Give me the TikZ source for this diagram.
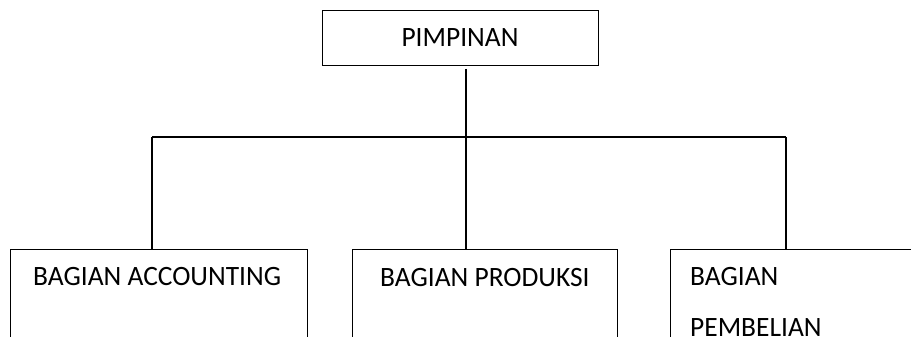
\documentclass[tikz,border=0pt]{standalone}
\usepackage{fontspec}
\setmainfont{Carlito}[FakeStretch=0.98]
\begin{document}
\begin{tikzpicture}[x=1pt,y=-1pt,
  box/.style={draw, line width=1.3pt, inner sep=0pt, anchor=north west},
  lbl/.style={font=\fontsize{28}{34}\selectfont, inner sep=0pt, anchor=base west},
  wire/.style={line width=1.3pt}]
\clip (0,0) rectangle (911,337);
% top box
\node[box, minimum width=276pt, minimum height=55pt] (top) at (322,10) {};
\node[lbl, anchor=base] (ttop) at (460,46.5) {PIMPINAN};
% lower boxes (run past the page edge)
\node[box, minimum width=297pt, minimum height=120pt] (acc) at (10,249) {};
\node[box, minimum width=265pt, minimum height=120pt] (prod) at (352,249) {};
\node[box, minimum width=280pt, minimum height=120pt] (beli) at (670,249) {};
\node[lbl] (tacc) at (33,285.5) {BAGIAN ACCOUNTING};
\node[lbl] (tprod) at (380,286) {BAGIAN PRODUKSI};
\node[lbl] (tbeli1) at (690,285.5) {BAGIAN};
\node[lbl] (tbeli2) at (690,336.5) {PEMBELIAN};
% connectors
\coordinate (trunk) at (466,69);
\coordinate (bus) at (466,137);
\coordinate (busL) at (152,137);
\coordinate (busR) at (786,137);
\draw[wire] (trunk) -- (bus);
\draw[wire] (busL) -- (busR);
\draw[wire] (busL) -- (busL |- acc.north);
\draw[wire] (bus) -- (bus |- prod.north);
\draw[wire] (busR) -- (busR |- beli.north);
\end{tikzpicture}
\end{document}
